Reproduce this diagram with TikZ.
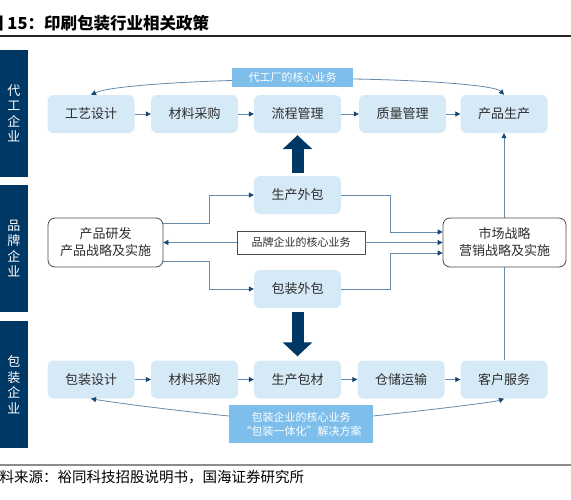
\documentclass[tikz,border=0pt]{standalone}
\usepackage{fontspec}
\setmainfont{Noto Sans CJK SC}
\usetikzlibrary{arrows.meta}
\definecolor{navy}{RGB}{0,56,101}
\definecolor{boxblue}{RGB}{214,233,247}
\definecolor{banblue}{RGB}{125,190,235}
\definecolor{txt}{RGB}{45,45,45}
\definecolor{linecol}{RGB}{100,138,172}
\definecolor{headcol}{RGB}{22,70,115}

\begin{document}
\begin{tikzpicture}[x=1pt,y=-1pt,
  side/.style={fill=navy, text=white, inner sep=0pt, minimum width=28pt, minimum height=127pt, align=center, font=\fontsize{13pt}{15.5pt}\selectfont},
  task/.style={fill=boxblue, rounded corners=6pt, inner sep=0pt, minimum width=87pt, minimum height=38pt, text=txt, font=\fontsize{13pt}{16pt}\selectfont},
  firm/.style={draw=black!70, fill=white, rounded corners=7pt, line width=0.8pt, inner sep=0pt, minimum height=49pt, align=center, text=txt, font=\fontsize{13pt}{17pt}\selectfont},
  banner/.style={fill=banblue, text=white, inner sep=0pt, align=center, font=\fontsize{11pt}{14pt}\selectfont},
  conn/.style={draw=linecol, line width=0.8pt, -{Triangle[length=5pt,width=5pt,color=headcol]}},
  bigarrow/.style={draw=navy, line width=12pt, -{Triangle[length=14pt,width=29pt]}}]
  \useasboundingbox (0,0) rectangle (571,499);

  % title and rules
  \node[anchor=base west, inner sep=0pt, font=\bfseries\fontsize{16.5pt}{18pt}\selectfont] (title) at (-13,29) {图 15：印刷包装行业相关政策};
  \draw[line width=1.6pt, black!85] (0,36) -- (571,36);
  \draw[line width=1.6pt, black!45] (0,465) -- (571,465);
  \node[anchor=base west, inner sep=0pt, font=\fontsize{14.5pt}{16pt}\selectfont] (source) at (-15,482) {资料来源：裕同科技招股说明书，国海证券研究所};

  % left labels
  \node[side] (oem) at (14,113.5) {代\\工\\企\\业};
  \node[side] (brand) at (14,248.5) {品\\牌\\企\\业};
  \node[side] (pack) at (14,384.5) {包\\装\\企\\业};

  % top row
  \node[task] (gongyi) at (91,114) {工艺设计};
  \node[task] (caigou) at (194.5,114) {材料采购};
  \node[task] (liucheng) at (297.5,114) {流程管理};
  \node[task] (zhiliang) at (402.5,114) {质量管理};
  \node[task] (shengchan) at (504,114) {产品生产};
  \draw[conn] (gongyi) -- (caigou);
  \draw[conn] (caigou) -- (liucheng);
  \draw[conn] (liucheng) -- (zhiliang);
  \draw[conn] (zhiliang) -- (shengchan);

  % bottom row
  \node[task] (sheji) at (91,379.5) {包装设计};
  \node[task] (caigoub) at (194.5,379.5) {材料采购};
  \node[task] (baocai) at (297.5,379.5) {生产包材};
  \node[task] (cangchu) at (401,379.5) {仓储运输};
  \node[task] (kehu) at (504,379.5) {客户服务};
  \draw[conn] (sheji) -- (caigoub);
  \draw[conn] (caigoub) -- (baocai);
  \draw[conn] (baocai) -- (cangchu);
  \draw[conn] (cangchu) -- (kehu);

  \draw[conn] (kehu.north) -- (shengchan.south);

  % middle
  \node[task] (waibao) at (297.5,195) {生产外包};
  \node[task] (baowai) at (297.5,289) {包装外包};
  \node[firm, minimum width=115pt] (yanfa) at (105.5,242.5) {产品研发\\产品战略及实施};
  \node[firm, minimum width=123pt] (shichang) at (504.5,242.5) {市场战略\\营销战略及实施};
  \node[draw=black!70, fill=white, line width=0.8pt, inner sep=0pt, minimum width=128pt, minimum height=23pt, text=txt, font=\fontsize{11pt}{13pt}\selectfont] (hexin) at (301,242.5) {品牌企业的核心业务};
  \draw[conn] (hexin.west) -- (yanfa.east);
  \draw[conn] (hexin.east) -- (shichang.west);
  \draw[conn] ([yshift=19.5pt]yanfa.east) -- ++(46,0) |- (waibao.west);
  \draw[conn] ([yshift=-18.5pt]yanfa.east) -- ++(46,0) |- (baowai.west);
  \draw[conn] (waibao.east) -- ++(49,0) |- ([yshift=10.5pt]shichang.west);
  \draw[conn] (baowai.east) -- ++(49,0) |- ([yshift=-10.5pt]shichang.west);

  \draw[bigarrow, shorten <=3pt, shorten >=2pt] (waibao.north) -- (liucheng.south);
  \draw[bigarrow, shorten <=4pt, shorten >=4pt] (baowai.south) -- (baocai.north);

  % banners
  \node[banner, minimum width=121pt, minimum height=19pt] (bantop) at (292.5,77.5) {代工厂的核心业务};
  \node[banner, minimum width=144pt, minimum height=38pt] (banbot) at (301,424) {包装企业的核心业务\\“包装一体化”解决方案};
  \draw[conn] ([yshift=-3pt]bantop.west) .. controls (180,82) and (110,86) .. (gongyi.north);
  \draw[conn] ([yshift=-1.5pt]bantop.east) .. controls (420,80) and (495,85) .. (shengchan.north);
  \draw[conn] ([yshift=8pt]banbot.west) .. controls (170,410) and (110,402) .. (sheji.south);
  \draw[conn] ([yshift=8pt]banbot.east) .. controls (430,410) and (495,402) .. (kehu.south);
\end{tikzpicture}
\end{document}
